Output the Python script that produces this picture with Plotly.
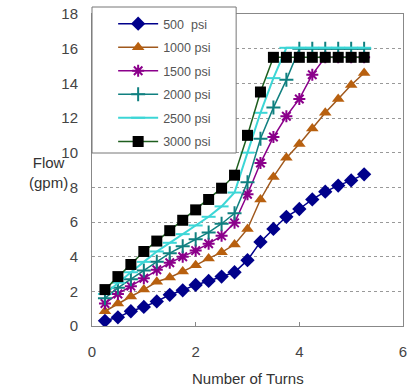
import plotly.graph_objects as go

turns = [0.25, 0.5, 0.75, 1.0, 1.25, 1.5, 1.75, 2.0, 2.25, 2.5, 2.75,
         3.0, 3.25, 3.5, 3.75, 4.0, 4.25, 4.5, 4.75, 5.0, 5.25]

flow_500 = [0.3, 0.5, 0.85, 1.1, 1.42, 1.8, 2.06, 2.37, 2.6, 2.85, 3.1,
            3.8, 4.85, 5.6, 6.3, 6.75, 7.3, 7.75, 8.1, 8.4, 8.75]
flow_1000 = [0.85, 1.3, 1.7, 2.1, 2.55, 2.8, 3.15, 3.5, 3.9, 4.25, 4.7,
             5.6, 7.3, 8.6, 9.7, 10.5, 11.4, 12.3, 13.1, 13.9, 14.6]
flow_1500 = [1.3, 1.85, 2.3, 2.75, 3.25, 3.65, 4.0, 4.35, 4.75, 5.2, 5.95,
             7.6, 9.4, 10.9, 12.1, 13.1, 14.5, 15.5, 15.5, 15.5, 15.5]
flow_2000 = [1.6, 2.2, 2.7, 3.2, 3.7, 4.2, 4.6, 5.0, 5.4, 5.9, 6.5,
             8.3, 10.8, 12.6, 14.2, 16.0, 16.0, 16.0, 16.0, 16.0, 16.0]
flow_2500 = [1.85, 2.5, 3.1, 3.7, 4.3, 4.8, 5.3, 5.8, 6.3, 6.9, 7.7,
             10.0, 12.3, 14.3, 16.05, 16.05, 16.05, 16.05, 16.05, 16.05, 16.05]
flow_3000 = [2.1, 2.85, 3.55, 4.3, 4.9, 5.5, 6.1, 6.7, 7.3, 7.95, 8.7,
             11.0, 13.5, 15.5, 15.5, 15.5, 15.5, 15.5, 15.5, 15.5, 15.5]

series_names = ["500\u00a0\u00a0psi", "1000\u00a0psi", "1500\u00a0psi",
                "2000\u00a0psi", "2500\u00a0psi", "3000\u00a0psi"]
x_ticks = [0, 2, 4, 6]
y_ticks = [0, 2, 4, 6, 8, 10, 12, 14, 16, 18]

styles = [
    dict(line=dict(color="#00008b", width=1.5),
         marker=dict(symbol="diamond", size=11, color="#00008b")),
    dict(line=dict(color="#a0581c", width=1.5),
         marker=dict(symbol="triangle-up", size=11, color="#b8600f")),
    dict(line=dict(color="#8b008b", width=1.5),
         marker=dict(symbol="asterisk-open", size=10, line=dict(color="#8b008b", width=2))),
    dict(line=dict(color="#108080", width=1.5),
         marker=dict(symbol="cross-thin-open", size=10, line=dict(color="#108080", width=2))),
    dict(line=dict(color="#3cd6d6", width=2),
         marker=dict(symbol="line-ew-open", size=10, line=dict(color="#3cd6d6", width=2))),
    dict(line=dict(color="#1e5e1e", width=1.5),
         marker=dict(symbol="square", size=11, color="#000000")),
]

all_flows = [flow_500, flow_1000, flow_1500, flow_2000, flow_2500, flow_3000]

fig = go.Figure()
for name, flows, st in zip(series_names, all_flows, styles):
    fig.add_trace(go.Scatter(x=turns, y=flows, name=name, mode="lines+markers",
                             legendgroup=name, line=st["line"], marker=st["marker"]))

font_family = "Liberation Sans, Arial, sans-serif"

fig.update_layout(
    width=412, height=390,
    margin=dict(l=92, r=5, t=14, b=64),
    plot_bgcolor="white", paper_bgcolor="white",
    font=dict(family=font_family, color="#444444"),
    showlegend=True,
    legend=dict(x=0.068, y=1.016, xanchor="left", yanchor="top",
                bgcolor="rgba(0,0,0,0)", borderwidth=0,
                font=dict(size=12.5, color="#555555", family=font_family),
                tracegroupgap=4.3, itemwidth=40, traceorder="grouped"),
    shapes=[dict(type="rect", xref="paper", yref="paper",
                 x0=0, x1=(238 - 92) / 315, y0=(326 - 153) / 312, y1=(326 - 7) / 312,
                 line=dict(color="#777777", width=1), fillcolor="white", layer="above")],
    annotations=[
        dict(text="Flow<br>(gpm)", xref="paper", yref="paper",
             x=-(92 - 26) / 315, y=(326 - 172) / 312, showarrow=False,
             font=dict(size=15, color="#333333"), align="center", yanchor="middle"),
        dict(text="Number of Turns", xref="paper", yref="paper",
             x=0.5, y=-(378 - 326) / 312, showarrow=False, yanchor="middle",
             font=dict(size=15, color="#333333")),
    ],
)

fig.update_xaxes(range=[0, 6], tickvals=x_ticks, showgrid=False, zeroline=False,
                 showline=True, linecolor="#888888", linewidth=1, mirror=True,
                 ticks="inside", ticklen=4, tickcolor="#888888",
                 tickfont=dict(size=15, color="#444444"), ticklabelstandoff=12)
fig.update_yaxes(range=[0, 18], tickvals=y_ticks, showgrid=True, gridcolor="#999999",
                 griddash="dot", gridwidth=1, zeroline=False,
                 showline=True, linecolor="#888888", linewidth=1, mirror=True,
                 ticks="", tickfont=dict(size=15, color="#444444"), ticklabelstandoff=10)

fig.write_html("out.html")
